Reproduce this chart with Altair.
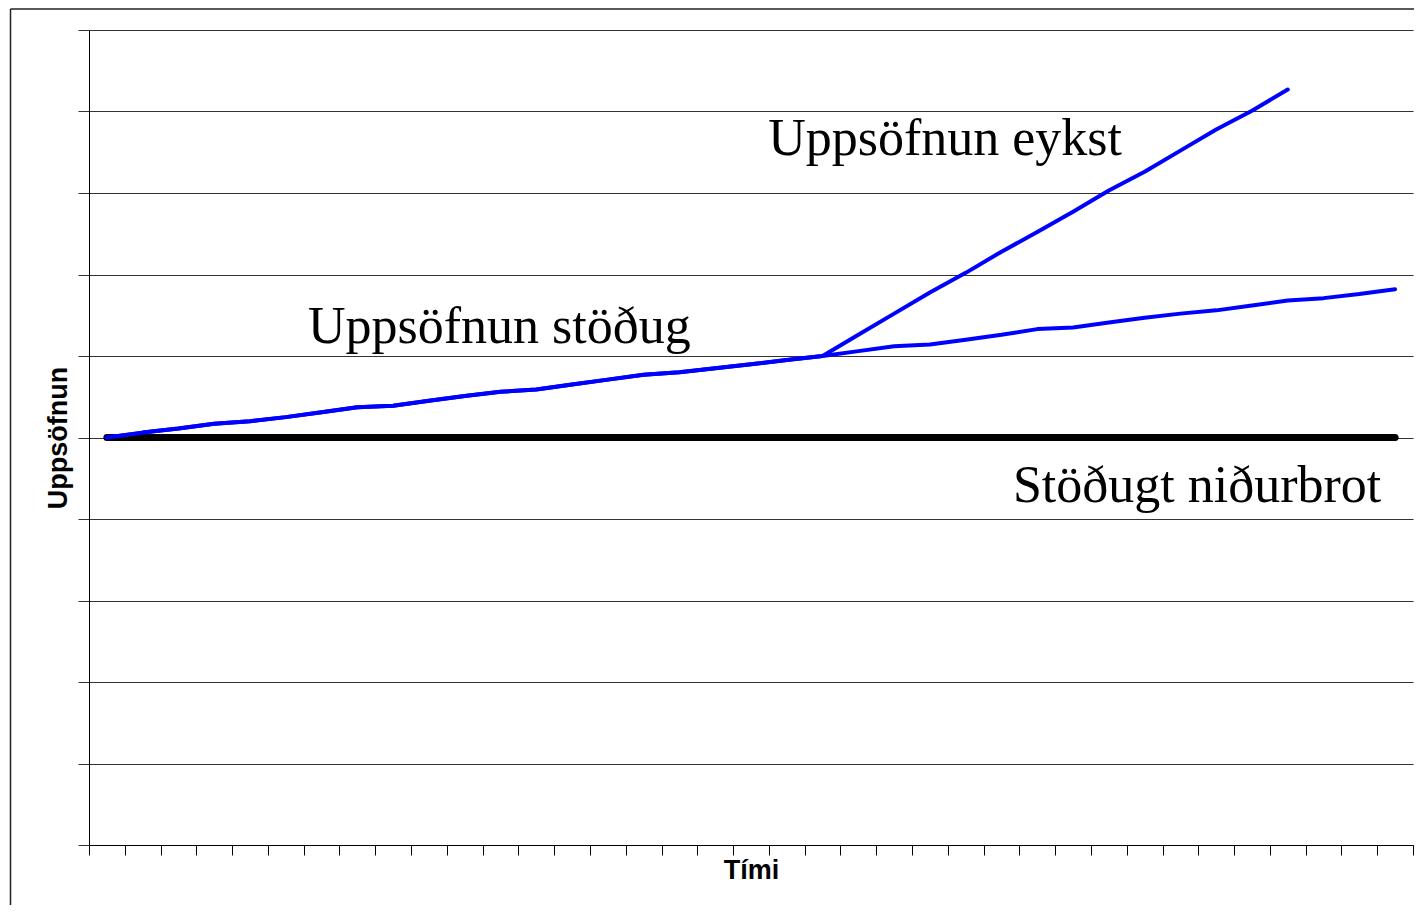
import altair as alt
import pandas as pd

# ---- data ----
time_index = list(range(37))
shared_rise = [0, 0.06, 0.11, 0.17, 0.20, 0.25, 0.31, 0.37, 0.39, 0.45, 0.51,
               0.56, 0.59, 0.65, 0.71, 0.77, 0.80, 0.85, 0.90, 0.95, 1.00]
increasing_tail = [1.26, 1.52, 1.78, 2.02, 2.28, 2.52, 2.77, 3.03, 3.26, 3.52,
                   3.78, 4.01, 4.27]
stable_tail = [1.06, 1.12, 1.14, 1.20, 1.26, 1.33, 1.35, 1.41, 1.47, 1.52,
               1.56, 1.62, 1.68, 1.71, 1.76, 1.82]
decay = [0] * 37

label_texts = ["Uppsöfnun eykst", "Uppsöfnun stöðug", "Stöðugt niðurbrot"]
label_x = [18.48, 5.62, 25.32]
label_y = [3.47, 1.16, -0.79]

y_ticks = [-5, -4, -3, -2, -1, 0, 1, 2, 3, 4, 5]
x_ticks = [i - 0.5 for i in range(38)]

# ---- tables ----
eykst = shared_rise + increasing_tail
stodug = shared_rise + stable_tail
blue_df = pd.concat([
    pd.DataFrame({"t": time_index[:len(eykst)], "v": eykst, "s": "eykst"}),
    pd.DataFrame({"t": time_index[:len(stodug)], "v": stodug, "s": "stodug"}),
])
black_df = pd.DataFrame({"t": time_index, "v": decay})
label_df = pd.DataFrame({"text": label_texts, "t": label_x, "v": label_y})
frame_df = pd.DataFrame({"a": [0]})

x_enc = alt.X("t:Q", scale=alt.Scale(domain=[-0.5, 36.5], nice=False, zero=False),
              axis=alt.Axis(values=x_ticks, tickCount=60, labels=False, grid=False,
                            tickSize=10, tickColor="black", domainColor="black",
                            tickWidth=1, title="Tími", titleFont="Liberation Sans",
                            titleFontSize=27, titleFontWeight="bold",
                            titleColor="black", titlePadding=2))
y_enc = alt.Y("v:Q", scale=alt.Scale(domain=[-5, 5], nice=False, zero=False),
              axis=alt.Axis(values=y_ticks, tickCount=20, labels=False, grid=True,
                            gridColor="#333333", gridWidth=1, tickSize=11,
                            tickColor="#333333", domainColor="black",
                            title="Uppsöfnun", titleFont="Liberation Sans",
                            titleFontSize=27, titleFontWeight="bold",
                            titleColor="black", titlePadding=5))

black_line = alt.Chart(black_df).mark_line(
    color="black", strokeWidth=7, strokeCap="round"
).encode(x=x_enc, y=y_enc)

blue_lines = alt.Chart(blue_df).mark_line(
    color="#0000ff", strokeWidth=4, strokeCap="round", strokeJoin="round"
).encode(x="t:Q", y="v:Q", detail="s:N")

labels = alt.Chart(label_df).mark_text(
    font="Liberation Serif", fontSize=52, align="left", baseline="alphabetic",
    color="black"
).encode(x="t:Q", y="v:Q", text="text:N")

frame_left = alt.Chart(frame_df).mark_rule(
    stroke="#222222", strokeWidth=1.5
).encode(x=alt.value(-78.5), y=alt.value(-21), y2=alt.value(875))

frame_top = alt.Chart(frame_df).mark_rule(
    stroke="#222222", strokeWidth=1.5
).encode(y=alt.value(-21), x=alt.value(-78.5), x2=alt.value(1325))

chart = alt.layer(black_line, blue_lines, labels, frame_left, frame_top).properties(
    width=1324, height=815,
    autosize=alt.AutoSizeParams(type="none"),
    padding={"left": 81, "top": 22, "right": 1, "bottom": 60},
).configure_view(strokeWidth=0)

chart.save("out.html", embed_options={"renderer": "svg", "actions": False})
